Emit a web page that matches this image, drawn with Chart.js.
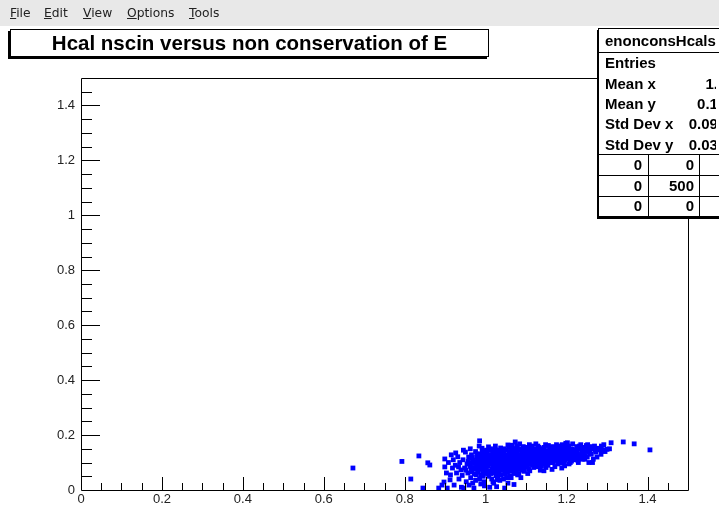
<!DOCTYPE html>
<html><head><meta charset="utf-8">
<script src="https://cdn.jsdelivr.net/npm/chart.js@4.4.1/dist/chart.umd.min.js"></script>
<style>
html,body{margin:0;padding:0;width:719px;height:507px;overflow:hidden;background:#fff;}
#wrap{position:relative;width:719px;height:507px;overflow:hidden;font-family:"Liberation Sans",Arial,sans-serif;}
#c{position:absolute;left:0;top:0;}
#menu{position:absolute;left:0;top:0;width:719px;height:26px;background:#e8e8e8;font-family:"DejaVu Sans",sans-serif;font-size:12.3px;color:#222;}
#menu span{position:absolute;top:5px;line-height:17px;}
#title{position:absolute;left:10px;top:29px;width:477px;height:26px;border:1px solid #000;background:#fff;box-shadow:-2px 2px 0 0 #000;
 font-weight:bold;font-size:20.5px;line-height:26px;text-align:center;color:#000;}
#stats{position:absolute;left:598px;top:28px;width:170px;height:187px;border:1px solid #000;background:#fff;box-shadow:-1px 2px 0 0 #000;
 font-weight:bold;font-size:15px;color:#000;}
#stats div{position:absolute;white-space:nowrap;}
#stxt{left:0;top:0;width:117px;height:187px;overflow:hidden;}
#stxt div{line-height:18px;}
#stxt .lab{left:6px;}
#stxt .val{text-align:right;width:100px;}
#stats .hl{left:0;width:170px;height:0;border-top:1px solid #000;}
#stats .vl{width:0;border-left:1px solid #000;top:125px;height:62px;}
</style></head>
<body><div id="wrap">
<canvas id="c" width="719" height="507"></canvas>
<div id="menu"><span style="left:10px"><u>F</u>ile</span><span style="left:44px"><u>E</u>dit</span><span style="left:83px"><u>V</u>iew</span><span style="left:127px"><u>O</u>ptions</span><span style="left:189px"><u>T</u>ools</span></div>
<div id="title">Hcal nscin versus non conservation of E</div>
<div id="stats"></div>
</div>
<script>
// ---- data ----
const histName = "enonconsHcalscin";
const statLabels = ["Entries","Mean x","Mean y","Std Dev x","Std Dev y"];
const statValues = ["500","1.066","0.1013","0.09012","0.03045"];
const overflowGrid = [["0","0","0"],["0","500","0"],["0","0","0"]];
const xTickValues = [0,0.2,0.4,0.6,0.8,1.0,1.2,1.4];
const yTickValues = [0,0.2,0.4,0.6,0.8,1.0,1.2,1.4];
const xRange = [0,1.5];
const yRange = [0,1.5];
const outlierPoints = [[0.672,0.080],[0.793,0.104],[0.835,0.124],[0.857,0.099],[0.862,0.091],[0.815,0.040],[0.845,0.007],
 [0.884,0.007],[0.892,0.018],[0.897,0.029],[0.899,0.113],[0.899,0.084],[0.985,0.179],[1.310,0.172],[1.340,0.175],[1.367,0.168],[1.406,0.146]];
const corePoints = [
 [0.903,0.062],[0.908,0.100],[0.912,0.037],[0.915,0.128],[0.918,0.080],[0.905,0.007],[0.920,0.110],[0.913,0.055],
 [0.922,0.018],[0.925,0.090],[0.928,0.062],[0.931,0.121],[0.934,0.040],[0.936,0.100],[0.939,0.073],[0.926,0.135],[0.940,0.010],[0.933,0.084],
 [0.942,0.053],[0.944,0.110],[0.946,0.007],[0.948,0.080],[0.950,0.138],[0.952,0.030],[0.954,0.095],[0.956,0.062],[0.958,0.120],[0.945,0.145],[0.959,0.018],[0.951,0.072],[0.957,0.104],
 [0.961,0.086],[0.963,0.045],[0.965,0.128],[0.967,0.066],[0.969,0.110],[0.971,0.007],[0.973,0.097],[0.975,0.140],[0.977,0.055],[0.979,0.120],[0.962,0.150],[0.968,0.025],[0.974,0.078],[0.978,0.088],[0.966,0.100],
 [0.981,0.070],[0.983,0.132],[0.985,0.040],[0.987,0.104],[0.989,0.085],[0.991,0.152],[0.993,0.060],[0.995,0.118],[0.997,0.015],[0.999,0.095],[0.982,0.112],[0.986,0.075],[0.990,0.125],[0.994,0.050],[0.998,0.140],[0.984,0.160],[0.992,0.090],[0.996,0.030],
 [1.001,0.080],[1.003,0.123],[1.005,0.058],[1.007,0.157],[1.009,0.098],[1.011,0.070],[1.013,0.110],[1.015,0.040],[1.017,0.138],[1.019,0.088],[1.002,0.145],[1.006,0.104],[1.010,0.010],[1.014,0.128],[1.018,0.066],[1.004,0.092],[1.012,0.150],[1.016,0.078],[1.008,0.118],[1.020,0.025],
 [1.021,0.100],[1.023,0.062],[1.025,0.135],[1.027,0.084],[1.029,0.115],[1.031,0.046],[1.033,0.145],[1.035,0.093],[1.037,0.153],[1.039,0.072],[1.022,0.125],[1.026,0.052],[1.030,0.105],[1.034,0.118],[1.038,0.082],[1.024,0.160],[1.028,0.095],[1.032,0.068],[1.036,0.130],[1.040,0.108],[1.027,0.012],[1.035,0.035],
 [1.041,0.090],[1.043,0.140],[1.045,0.075],[1.047,0.115],[1.049,0.057],[1.051,0.128],[1.053,0.098],[1.055,0.164],[1.057,0.082],[1.059,0.120],[1.042,0.108],[1.046,0.150],[1.050,0.088],[1.054,0.065],[1.058,0.140],[1.044,0.040],[1.048,0.100],[1.052,0.112],[1.056,0.103],[1.060,0.093],[1.047,0.007],[1.055,0.025],[1.044,0.125],
 [1.061,0.132],[1.063,0.070],[1.065,0.108],[1.067,0.150],[1.069,0.088],[1.071,0.120],[1.073,0.175],[1.075,0.097],[1.077,0.140],[1.079,0.078],[1.062,0.100],[1.066,0.125],[1.070,0.060],[1.074,0.113],[1.078,0.160],[1.064,0.085],[1.068,0.140],[1.072,0.095],[1.076,0.130],[1.080,0.105],[1.063,0.045],[1.070,0.020],[1.066,0.163],
 [1.081,0.118],[1.083,0.085],[1.085,0.145],[1.087,0.100],[1.089,0.130],[1.091,0.072],[1.093,0.158],[1.095,0.110],[1.097,0.092],[1.099,0.138],[1.082,0.060],[1.086,0.125],[1.090,0.105],[1.094,0.080],[1.098,0.150],[1.084,0.168],[1.088,0.115],[1.092,0.135],[1.096,0.120],[1.100,0.098],[1.087,0.045],
 [1.101,0.125],[1.103,0.088],[1.105,0.150],[1.107,0.108],[1.109,0.070],[1.111,0.135],[1.113,0.098],[1.115,0.160],[1.117,0.118],[1.119,0.082],[1.102,0.140],[1.106,0.095],[1.110,0.115],[1.114,0.128],[1.118,0.145],[1.104,0.060],[1.108,0.165],[1.112,0.105],[1.116,0.090],[1.120,0.130],
 [1.121,0.110],[1.123,0.145],[1.125,0.085],[1.127,0.125],[1.129,0.160],[1.131,0.100],[1.133,0.138],[1.135,0.072],[1.137,0.115],[1.139,0.150],[1.122,0.130],[1.126,0.098],[1.130,0.120],[1.134,0.108],[1.138,0.088],[1.124,0.168],[1.128,0.140],[1.132,0.155],[1.136,0.128],[1.140,0.118],
 [1.141,0.135],[1.143,0.095],[1.145,0.155],[1.147,0.118],[1.149,0.082],[1.151,0.143],[1.153,0.108],[1.155,0.162],[1.157,0.125],[1.159,0.100],[1.142,0.115],[1.146,0.138],[1.150,0.125],[1.154,0.090],[1.158,0.148],[1.144,0.070],[1.148,0.165],[1.152,0.130],[1.156,0.112],
 [1.161,0.130],[1.163,0.100],[1.165,0.158],[1.167,0.118],[1.169,0.145],[1.171,0.085],[1.173,0.135],[1.175,0.165],[1.177,0.110],[1.179,0.140],[1.162,0.150],[1.166,0.125],[1.170,0.108],[1.174,0.122],[1.178,0.095],[1.164,0.075],[1.168,0.138],[1.172,0.155],[1.176,0.128],
 [1.181,0.120],[1.183,0.150],[1.185,0.098],[1.187,0.138],[1.189,0.165],[1.191,0.112],[1.193,0.145],[1.195,0.088],[1.197,0.130],[1.199,0.158],[1.182,0.105],[1.186,0.125],[1.190,0.140],[1.194,0.118],[1.198,0.170],[1.184,0.160],[1.188,0.080],[1.192,0.128],[1.196,0.108],
 [1.201,0.140],[1.203,0.115],[1.205,0.160],[1.207,0.128],[1.209,0.100],[1.211,0.150],[1.213,0.120],[1.215,0.168],[1.217,0.135],[1.219,0.110],[1.202,0.172],[1.206,0.095],[1.210,0.138],[1.214,0.148],[1.218,0.125],[1.204,0.130],[1.212,0.105],
 [1.221,0.145],[1.223,0.118],[1.225,0.158],[1.227,0.130],[1.229,0.100],[1.231,0.150],[1.233,0.125],[1.235,0.165],[1.237,0.138],[1.239,0.112],[1.224,0.140],[1.228,0.108],[1.232,0.160],[1.236,0.120],[1.240,0.145],
 [1.241,0.128],[1.243,0.155],[1.245,0.112],[1.247,0.140],[1.249,0.162],[1.251,0.120],[1.253,0.148],[1.255,0.100],[1.257,0.135],[1.259,0.158],[1.246,0.125],[1.252,0.165],[1.256,0.142],
 [1.261,0.130],[1.263,0.150],[1.266,0.112],[1.269,0.160],[1.272,0.138],[1.275,0.120],[1.278,0.152],[1.264,0.100],[1.270,0.145],
 [1.282,0.146],[1.286,0.160],[1.290,0.146],[1.295,0.140],[1.300,0.148],[1.306,0.150],[1.285,0.130],[1.292,0.165]
];
const denseCorePoints = [
 [0.962,0.092],[0.964,0.072],[0.967,0.118],[0.970,0.082],[0.972,0.058],[0.976,0.104],[0.978,0.130],[0.980,0.065],[0.982,0.095],[0.984,0.082],[0.986,0.122],[0.988,0.055],[0.990,0.108],[0.992,0.138],[0.994,0.075],[0.996,0.100],[0.998,0.062],[0.999,0.128],[0.975,0.035],[0.988,0.022],
 [1.001,0.112],[1.003,0.070],[1.004,0.135],[1.006,0.088],[1.008,0.050],[1.010,0.125],[1.012,0.095],[1.013,0.060],[1.015,0.115],[1.017,0.100],[1.019,0.145],[1.020,0.075],[1.022,0.090],[1.024,0.112],[1.025,0.070],[1.027,0.140],[1.028,0.058],[1.030,0.122],[1.031,0.085],[1.033,0.100],[1.034,0.075],[1.036,0.112],[1.037,0.055],[1.039,0.130],[1.040,0.090],[1.018,0.030],[1.029,0.038],[1.011,0.145],[1.023,0.148],[1.038,0.145],
 [1.041,0.118],[1.042,0.072],[1.044,0.098],[1.045,0.135],[1.047,0.082],[1.048,0.060],[1.050,0.145],[1.051,0.110],[1.053,0.078],[1.054,0.125],[1.056,0.090],[1.057,0.155],[1.059,0.068],[1.060,0.130],[1.062,0.115],[1.063,0.088],[1.065,0.140],[1.066,0.075],[1.068,0.105],[1.069,0.122],[1.071,0.150],[1.072,0.080],[1.074,0.135],[1.075,0.065],[1.077,0.118],[1.078,0.092],[1.080,0.145],[1.052,0.045],[1.061,0.050],[1.079,0.055],
 [1.081,0.100],[1.083,0.128],[1.084,0.075],[1.086,0.110],[1.088,0.150],[1.089,0.090],[1.091,0.120],[1.092,0.100],[1.094,0.140],[1.095,0.068],[1.097,0.125],[1.098,0.085],[1.100,0.115],[1.102,0.155],[1.103,0.105],[1.105,0.130],[1.106,0.078],[1.108,0.120],[1.109,0.145],[1.111,0.095],[1.112,0.118],[1.114,0.140],[1.115,0.100],[1.117,0.132],[1.119,0.108],
 [1.121,0.138],[1.123,0.095],[1.125,0.150],[1.127,0.112],[1.129,0.128],[1.131,0.085],[1.133,0.118],[1.135,0.145],[1.137,0.100],[1.139,0.132],[1.141,0.118],[1.143,0.150],[1.145,0.105],[1.147,0.130],[1.149,0.140],[1.151,0.095],[1.153,0.125],[1.155,0.138],[1.157,0.110],[1.159,0.150],
 [1.161,0.112],[1.164,0.140],[1.167,0.100],[1.170,0.130],[1.173,0.150],[1.176,0.115],[1.179,0.125],[1.182,0.140],[1.185,0.118],[1.188,0.150],[1.191,0.130],[1.194,0.100],[1.197,0.145],[1.200,0.120],[1.203,0.150],[1.206,0.112],[1.210,0.125],[1.214,0.135],[1.220,0.128],[1.226,0.145]
];

// ---- stats box (HTML text) ----
(function(){
  const box = document.getElementById('stats');
  let t = '<div class="lab" style="top:3px">'+histName+'</div>';
  const rowTops = [25,46,66,86,107];
  statLabels.forEach((l,i)=>{
    const right = i===0 ? 160 : 144;
    t += '<div class="lab" style="top:'+rowTops[i]+'px">'+l+'</div>';
    t += '<div class="val" style="top:'+rowTops[i]+'px;left:'+(right-100)+'px">'+statValues[i]+'</div>';
  });
  const colRights = [43,95,160];
  const gridTops = [127,148,168];
  overflowGrid.forEach((r,ri)=>r.forEach((v,ci)=>{
    t += '<div class="val" style="top:'+gridTops[ri]+'px;left:'+(colRights[ci]-100)+'px">'+v+'</div>';
  }));
  let h = '<div id="stxt">'+t+'</div>';
  h += '<div class="hl" style="top:23px"></div>';
  h += '<div class="hl" style="top:125px"></div><div class="hl" style="top:146px"></div><div class="hl" style="top:167px"></div>';
  h += '<div class="vl" style="left:49px"></div><div class="vl" style="left:100px"></div>';
  box.innerHTML = h;
})();

// ---- chart ----
const rootFrame = {
  id:'rootFrame',
  afterDraw(chart){
    const {ctx, chartArea:a, scales:{x,y}} = chart;
    ctx.save();
    ctx.strokeStyle='#000'; ctx.lineWidth=1;
    ctx.beginPath();
    ctx.rect(Math.round(a.left)+0.5, Math.round(a.top)+0.5, Math.round(a.right-a.left), Math.round(a.bottom-a.top));
    for(let i=1;i<30;i++){
      const v=i*0.05, major=(i%4===0);
      const px=Math.round(x.getPixelForValue(v))+0.5;
      ctx.moveTo(px, a.bottom); ctx.lineTo(px, a.bottom-(major?13:7));
      const py=Math.round(y.getPixelForValue(v))+0.5;
      ctx.moveTo(a.left, py); ctx.lineTo(a.left+(major?19:11), py);
    }
    ctx.stroke();
    ctx.restore();
  }
};
const tickFmt = v => String(Math.round(v*10)/10);
new Chart(document.getElementById('c'), {
  type:'scatter',
  data:{datasets:[{
    data: corePoints.concat(denseCorePoints, outlierPoints).map(p=>({x:p[0],y:p[1]})),
    pointStyle:'rect', pointRadius:3.4, pointHoverRadius:3.4, pointBorderWidth:0,
    backgroundColor:'#0000ff', borderColor:'#0000ff'
  }]},
  options:{
    responsive:false, animation:false, devicePixelRatio:1,
    layout:{padding:{left:0,right:31,top:78,bottom:0}},
    plugins:{legend:{display:false},tooltip:{enabled:false},title:{display:false}},
    scales:{
      x:{type:'linear',min:xRange[0],max:xRange[1],
        afterBuildTicks:s=>{s.ticks=xTickValues.map(v=>({value:v}));},
        afterFit:s=>{s.height=17;},
        grid:{display:false,drawTicks:false}, border:{display:false},
        ticks:{callback:tickFmt,padding:2,maxRotation:0,autoSkip:false,color:'#222',font:{family:'"Liberation Sans", Arial',size:13}}},
      y:{type:'linear',min:yRange[0],max:yRange[1],
        afterBuildTicks:s=>{s.ticks=yTickValues.map(v=>({value:v}));},
        afterFit:s=>{s.width=81;},
        grid:{display:false,drawTicks:false}, border:{display:false},
        ticks:{callback:tickFmt,padding:6,autoSkip:false,color:'#222',font:{family:'"Liberation Sans", Arial',size:13}}}
    }
  },
  plugins:[rootFrame]
});
</script>
</body></html>
